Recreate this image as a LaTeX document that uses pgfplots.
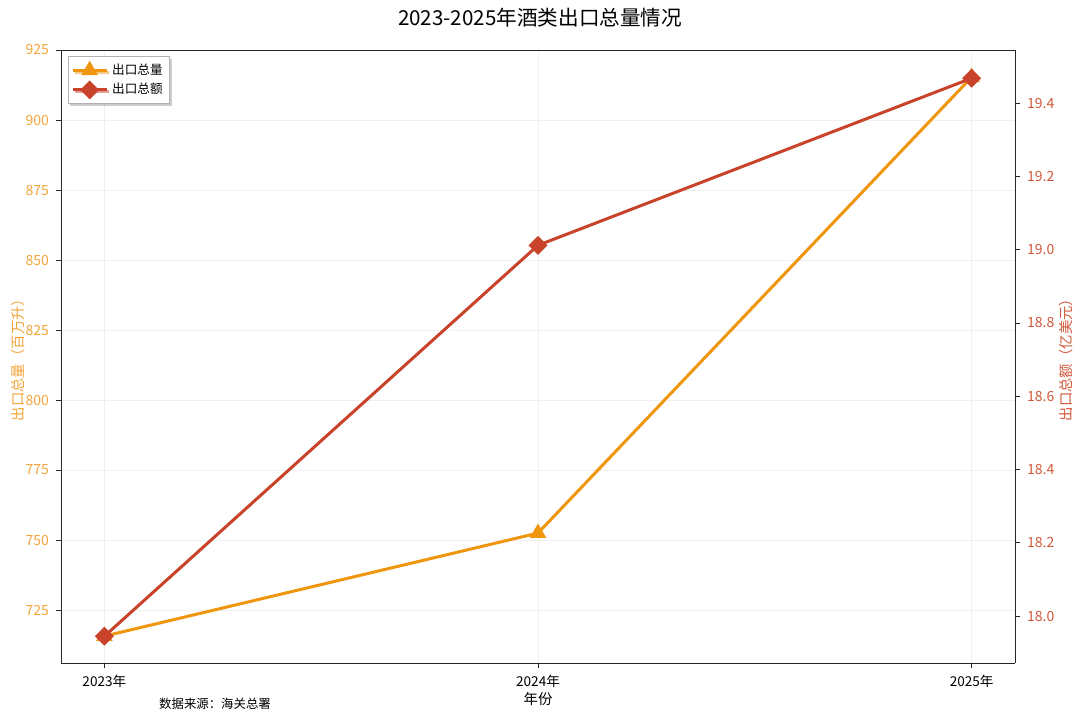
\documentclass[border=0pt]{standalone}
\usepackage{fontspec}
\setmainfont{Noto Sans CJK SC}
\usepackage{pgfplots}
\pgfplotsset{compat=1.18}
\usetikzlibrary{shadows}

\definecolor{volc}{HTML}{F0960E}
\definecolor{valc}{HTML}{C8432A}
\definecolor{voltick}{HTML}{F2A43A}
\definecolor{valtick}{HTML}{D0583A}

\begin{document}
\begin{tikzpicture}
% page = 1080x719 px at 0.5pt per px, axis box at (61..1015, 50..663)
\useasboundingbox (-30.5pt,-28pt) rectangle (509.5pt,331.5pt);

\pgfplotsset{
  base/.style={
    at={(0,0)}, anchor=south west,
    scale only axis=true,
    width=477pt, height=306.5pt,
    xmin=-0.1, xmax=2.1,
    /pgf/number format/assume math mode=true,
    tick style={black!85, line width=0.45pt},
    major tick length=2.5pt,
    tick align=outside,
    axis line style={black!85, line width=0.45pt},
    every axis y label/.style={rotate=90, anchor=center, font=\fontsize{7.2}{8}\selectfont},
  },
}

\begin{axis}[
  base,
  axis y line*=left,
  axis x line*=box,
  ymin=706.1, ymax=925,
  ytick={725,750,775,800,825,850,875,900,925},
  xtick={0,1,2},
  xticklabels={2023年,2024年,2025年},
  x tick label style={font=\fontsize{6.8}{8}\selectfont, black},
  y tick label style={font=\fontsize{7}{8}\selectfont, text=voltick},
  ymajorgrids=true, xmajorgrids=true,
  grid style={gray!12, line width=0.4pt},
  xtick pos=bottom,
  xlabel={年份},
  xlabel style={at={(axis description cs:0.5,-0.058)}, anchor=center, font=\fontsize{7.2}{8}\selectfont},
  ylabel={出口总量（百万升）},
  ylabel style={at={(axis description cs:-0.045,0.5)}, text=voltick},
]
\addplot[volc, line width=1.5pt, mark=triangle*, mark size=3.3pt,
  mark options={solid, fill=volc}]
  coordinates {(0,715.7) (1,752.5) (2,915.3)};
\end{axis}

\begin{axis}[
  base,
  axis y line*=right,
  axis x line=none,
  ymin=17.872, ymax=19.545,
  ytick={18.0,18.2,18.4,18.6,18.8,19.0,19.2,19.4},
  y tick label style={font=\fontsize{7}{8}\selectfont, text=valtick,
    /pgf/number format/fixed, /pgf/number format/fixed zerofill,
    /pgf/number format/precision=1},
  ylabel={出口总额（亿美元）},
  ylabel style={at={(axis description cs:1.0535,0.5)}, text=valtick},
  legend style={at={(axis description cs:0.007,0.99)}, anchor=north west,
    font=\fontsize{6.3}{7}\selectfont, draw=gray!60, fill=white,
    drop shadow={shadow xshift=1pt, shadow yshift=-1pt, fill=gray!80},
    row sep=-1pt, inner sep=1.5pt},
  legend cell align=left,
]
\addlegendimage{volc, line width=1.5pt, mark=triangle*, mark size=3.3pt, mark options={solid, fill=volc}}
\addlegendentry{出口总量}
\addplot[valc, line width=1.5pt, mark=square*, mark size=2.6pt,
  mark options={solid, fill=valc, rotate=45}]
  coordinates {(0,17.945) (1,19.012) (2,19.468)};
\addlegendentry{出口总额}
\end{axis}

\node[font=\fontsize{10.3}{12}\selectfont] at (239.5pt,322.5pt) {2023-2025年酒类出口总量情况};
\node[font=\fontsize{6.2}{7}\selectfont] at (77pt,-20.5pt) {数据来源：海关总署};
\end{tikzpicture}
\end{document}
